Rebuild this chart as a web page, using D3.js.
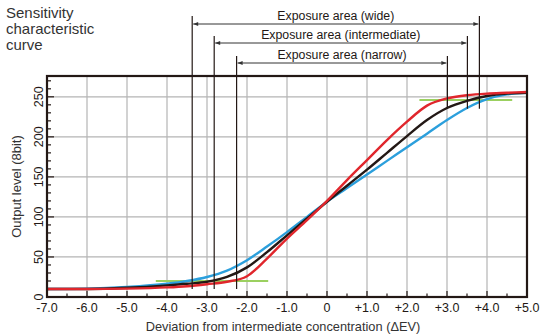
<!DOCTYPE html>
<html>
<head>
<meta charset="utf-8">
<script src="https://cdn.jsdelivr.net/npm/d3@7"></script>
<style>
  body { margin: 0; background: #fff; }
  svg { display: block; font-family: Arial, "Liberation Sans", sans-serif; }
</style>
</head>
<body>
<div id="chart"></div>
<script>
// deviation (EV) sample points
const evSteps = [-7, -6, -5, -4, -3.5, -3, -2.5, -2, -1.5, -1, -0.5, 0, 0.5, 1, 1.5, 2, 2.5, 3, 3.5, 4, 4.5, 5];
const wideLevels = [10, 10.5, 12.5, 16.5, 20, 25, 33, 46, 63, 81, 100, 119, 136, 153, 170, 187, 204, 221, 236, 247, 253, 255];
const midLevels = [10, 10, 11.5, 14.5, 16.5, 19, 25, 37, 56, 77, 98, 119, 139, 159, 180, 201, 221, 236, 245, 251, 254, 255];
const narrowLevels = [10, 10, 10.5, 12, 13.5, 16, 19, 26, 48, 73, 96, 120, 146, 171, 196, 219, 239, 248, 252, 254, 255, 256];

const xTicks = [-7, -6, -5, -4, -3, -2, -1, 0, 1, 2, 3, 4, 5];
const yTicks = [0, 50, 100, 150, 200, 250];

// exposure areas: [from EV, to EV]
const exposureNames = ['Exposure area (wide)', 'Exposure area (intermediate)', 'Exposure area (narrow)'];
const exposureFrom = [-3.37, -2.82, -2.26];
const exposureTo = [3.81, 3.51, 3.01];

// green reference lines: [x0, x1, level]
const refLow = [-4.28, -1.47, 20];
const refHigh = [2.31, 4.63, 246];

const size = { width: 540, height: 334 };
const margin = { top: 76, right: 13, bottom: 37, left: 47 };

const svg = d3.select('#chart')
  .append('svg')
  .attr('width', size.width)
  .attr('height', size.height);

const x = d3.scaleLinear()
  .domain([-7, 5])
  .range([margin.left, size.width - margin.right]);

const y = d3.scaleLinear()
  .domain([0, 276])
  .range([size.height - margin.bottom, margin.top]);

const ink = '#231815';

// grid
svg.append('g')
  .selectAll('line')
  .data(xTicks.slice(1, -1))
  .join('line')
  .attr('x1', (d) => x(d)).attr('x2', (d) => x(d))
  .attr('y1', y(0)).attr('y2', y(276))
  .attr('stroke', '#b4b4b4').attr('stroke-width', 1.2);

svg.append('g')
  .selectAll('line')
  .data(yTicks.slice(1))
  .join('line')
  .attr('x1', x(-7)).attr('x2', x(5))
  .attr('y1', (d) => y(d)).attr('y2', (d) => y(d))
  .attr('stroke', '#b4b4b4').attr('stroke-width', 1.2);

// inner ticks
const xMinor = d3.range(-6.5, 5, 1);
svg.append('g')
  .selectAll('line')
  .data(xTicks.map((d) => [d, 6]).concat(xMinor.map((d) => [d, 3.5])))
  .join('line')
  .attr('x1', (d) => x(d[0])).attr('x2', (d) => x(d[0]))
  .attr('y1', y(0)).attr('y2', (d) => y(0) - d[1])
  .attr('stroke', ink).attr('stroke-width', 1.2);

const yMinor = d3.range(10, 276, 10).filter((d) => d % 50 !== 0);
svg.append('g')
  .selectAll('line')
  .data(yTicks.map((d) => [d, 7]).concat(yMinor.map((d) => [d, 4])))
  .join('line')
  .attr('x1', x(-7)).attr('x2', (d) => x(-7) + d[1])
  .attr('y1', (d) => y(d[0])).attr('y2', (d) => y(d[0]))
  .attr('stroke', ink).attr('stroke-width', 1.2);

// green reference lines
svg.append('g')
  .selectAll('line')
  .data([refLow, refHigh])
  .join('line')
  .attr('x1', (d) => x(d[0])).attr('x2', (d) => x(d[1]))
  .attr('y1', (d) => y(d[2])).attr('y2', (d) => y(d[2]))
  .attr('stroke', '#9bd060').attr('stroke-width', 2);

// curves
const line = d3.line()
  .x((d) => x(d[0]))
  .y((d) => y(d[1]))
  .curve(d3.curveMonotoneX);

const series = [
  { values: wideLevels, color: '#2b9fdc' },
  { values: midLevels, color: ink },
  { values: narrowLevels, color: '#e0262c' },
];

svg.append('g')
  .selectAll('path')
  .data(series)
  .join('path')
  .attr('d', (d) => line(evSteps.map((e, i) => [e, d.values[i]])))
  .attr('fill', 'none')
  .attr('stroke', (d) => d.color)
  .attr('stroke-width', 2.4);

// exposure markers
const defs = svg.append('defs');
defs.append('marker')
  .attr('id', 'arrow')
  .attr('viewBox', '0 0 10 10')
  .attr('refX', 10).attr('refY', 5)
  .attr('markerWidth', 6).attr('markerHeight', 5)
  .attr('markerUnits', 'userSpaceOnUse')
  .attr('orient', 'auto-start-reverse')
  .append('path')
  .attr('d', 'M0,1 L10,5 L0,9 Z')
  .attr('fill', '#333');

const vTop = [16, 36, 56];
const arrowY = [24, 43, 63];
const textY = [20, 39, 59];

const exp = svg.append('g');
exposureNames.forEach((name, i) => {
  exp.append('line')
    .attr('x1', x(exposureFrom[i])).attr('x2', x(exposureFrom[i]))
    .attr('y1', vTop[i]).attr('y2', y(10))
    .attr('stroke', ink).attr('stroke-width', 1.2);
  exp.append('line')
    .attr('x1', x(exposureTo[i])).attr('x2', x(exposureTo[i]))
    .attr('y1', vTop[i]).attr('y2', y(235))
    .attr('stroke', ink).attr('stroke-width', 1.2);
  exp.append('line')
    .attr('x1', x(exposureFrom[i]) + 1).attr('x2', x(exposureTo[i]) - 1)
    .attr('y1', arrowY[i]).attr('y2', arrowY[i])
    .attr('stroke', '#333').attr('stroke-width', 1)
    .attr('marker-start', 'url(#arrow)')
    .attr('marker-end', 'url(#arrow)');
  exp.append('text')
    .text(name)
    .attr('x', (x(exposureFrom[i]) + x(exposureTo[i])) / 2)
    .attr('y', textY[i])
    .attr('text-anchor', 'middle')
    .attr('font-size', '12.3px')
    .attr('fill', ink);
});

// frame
svg.append('rect')
  .attr('x', x(-7)).attr('y', y(276))
  .attr('width', x(5) - x(-7))
  .attr('height', y(0) - y(276))
  .attr('fill', 'none')
  .attr('stroke', ink)
  .attr('stroke-width', 2.2);

// tick labels
svg.append('g')
  .selectAll('text')
  .data(xTicks)
  .join('text')
  .text((d) => (d === 0 ? '0' : (d > 0 ? '+' : '') + d.toFixed(1)))
  .attr('x', (d) => x(d))
  .attr('y', 312)
  .attr('text-anchor', 'middle')
  .attr('font-size', '12.5px')
  .attr('fill', ink);

svg.append('g')
  .selectAll('text')
  .data(yTicks)
  .join('text')
  .text((d) => d)
  .attr('transform', (d) => `translate(${x(-7) - 4}, ${y(d)}) rotate(-90)`)
  .attr('text-anchor', 'middle')
  .attr('font-size', '12.5px')
  .attr('fill', ink);

// titles
svg.append('text')
  .attr('transform', `translate(21, ${(y(0) + y(276)) / 2}) rotate(-90)`)
  .attr('text-anchor', 'middle')
  .attr('font-size', '13px')
  .attr('fill', '#333')
  .text('Output level (8bit)');

svg.append('text')
  .attr('x', (x(-7) + x(5)) / 2 - 4)
  .attr('y', 331)
  .attr('text-anchor', 'middle')
  .attr('font-size', '12.8px')
  .attr('fill', '#333')
  .text('Deviation from intermediate concentration (ΔEV)');

svg.append('g')
  .selectAll('text')
  .data(['Sensitivity', 'characteristic', 'curve'])
  .join('text')
  .text((d) => d)
  .attr('x', 6)
  .attr('y', (d, i) => 18 + i * 16)
  .attr('font-size', '15px')
  .attr('fill', '#333');
</script>
</body>
</html>
